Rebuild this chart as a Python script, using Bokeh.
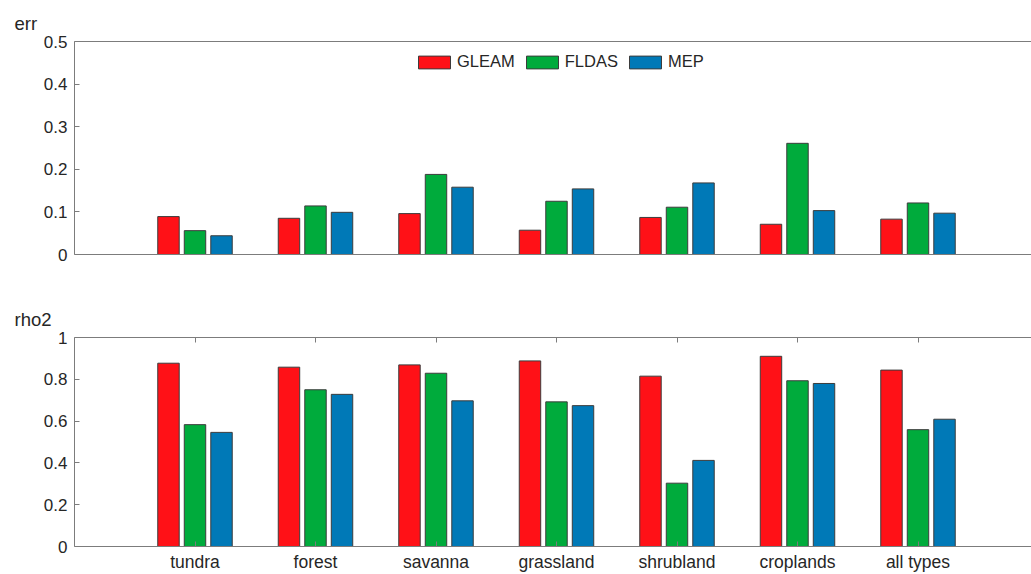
from bokeh.plotting import figure
from bokeh.models import (ColumnDataSource, FixedTicker, CustomJSTickFormatter, Range1d,
                          LinearAxis, Legend, LegendItem, Title)
from bokeh.layouts import column
from bokeh.transform import dodge
from bokeh.embed import file_html
from bokeh.resources import INLINE

categories = ["tundra", "forest", "savanna", "grassland", "shrubland", "croplands", "all types"]
series = ["GLEAM", "FLDAS", "MEP"]

err_gleam = [0.089, 0.085, 0.096, 0.057, 0.087, 0.071, 0.083]
err_fldas = [0.056, 0.114, 0.188, 0.125, 0.111, 0.261, 0.121]
err_mep = [0.044, 0.099, 0.158, 0.154, 0.168, 0.103, 0.097]

rho2_gleam = [0.877, 0.858, 0.869, 0.888, 0.815, 0.910, 0.844]
rho2_fldas = [0.583, 0.750, 0.829, 0.692, 0.303, 0.793, 0.559]
rho2_mep = [0.546, 0.728, 0.697, 0.674, 0.412, 0.780, 0.609]

err_ticks = [0, 0.1, 0.2, 0.3, 0.4, 0.5]
rho2_ticks = [0, 0.2, 0.4, 0.6, 0.8, 1]

colors = ["#ff1117", "#00ab3c", "#0079b7"]

FONT = "Liberation Sans"
AXIS_COLOR = "#7c7c7c"
TEXT_COLOR = "#262626"
positions = list(range(1, len(categories) + 1))


def make_panel(name, values, ymax, yticks, height, border_top, border_bottom,
               show_labels, show_legend):
    p = figure(width=1031, height=height, output_backend="svg", toolbar_location=None,
               x_range=Range1d(0, 957 / 120.5), y_range=Range1d(0, ymax),
               min_border_left=74, min_border_right=0,
               min_border_top=border_top, min_border_bottom=border_bottom,
               x_axis_type=None, y_axis_type=None)
    p.outline_line_color = None
    p.background_fill_color = "white"

    src = ColumnDataSource(dict(x=positions, a=values[0], b=values[1], c=values[2]))
    renderers = []
    for col, off, color in zip(["a", "b", "c"], [-0.22, 0.0, 0.22], colors):
        r = p.vbar(x=dodge("x", off), top=col, width=0.178, bottom=0, source=src,
                   fill_color=color, line_color="#3c3c3c", line_width=1)
        renderers.append(r)

    # left value axis
    yax = LinearAxis(ticker=FixedTicker(ticks=yticks),
                     formatter=CustomJSTickFormatter(code="return String(Math.round(tick*10)/10);"))
    yax.major_tick_in = 5
    yax.major_tick_out = 0
    yax.minor_tick_line_color = None
    yax.axis_line_color = AXIS_COLOR
    yax.major_tick_line_color = AXIS_COLOR
    yax.major_label_text_font = FONT
    yax.major_label_text_font_size = "17px"
    yax.major_label_text_color = TEXT_COLOR
    yax.major_label_standoff = 7
    p.add_layout(yax, "left")

    # category axis below (labels only on the lower panel)
    if show_labels:
        xax = LinearAxis(ticker=FixedTicker(ticks=positions),
                         formatter=CustomJSTickFormatter(args=dict(names=categories),
                                                         code="return names[Math.round(tick)-1] || '';"))
        xax.major_tick_line_color = AXIS_COLOR
        xax.major_tick_in = 5
        xax.major_tick_out = 0
        xax.major_label_text_font = FONT
        xax.major_label_text_color = TEXT_COLOR
        xax.major_label_text_font_size = "17.5px"
        xax.major_label_standoff = 5
    else:
        xax = LinearAxis(ticker=FixedTicker(ticks=[]))
        xax.major_tick_line_color = None
    xax.minor_tick_line_color = None
    xax.axis_line_color = AXIS_COLOR
    p.add_layout(xax, "below")

    # top edge of the box, with inward ticks on the lower panel
    tax = LinearAxis(ticker=FixedTicker(ticks=[], minor_ticks=positions if show_labels else []))
    tax.axis_line_color = AXIS_COLOR
    tax.major_tick_line_color = None
    tax.minor_tick_in = 5
    tax.minor_tick_out = 0
    tax.minor_tick_line_color = AXIS_COLOR if show_labels else None
    p.add_layout(tax, "above")

    p.ygrid.ticker = FixedTicker(ticks=yticks)
    p.ygrid.grid_line_color = "#e8e8e8"
    p.xgrid.grid_line_color = None

    p.title = Title(text=name, align="left", offset=-60, text_font=FONT,
                    text_font_size="18.5px", text_font_style="normal",
                    text_color=TEXT_COLOR, standoff=16)

    if show_legend:
        legend = Legend(items=[LegendItem(label=s, renderers=[r])
                               for s, r in zip(series, renderers)],
                        orientation="horizontal", location=(340, 183),
                        border_line_color=None, background_fill_alpha=0,
                        glyph_width=40, glyph_height=16, label_standoff=3,
                        spacing=7, padding=0, margin=0,
                        label_text_font=FONT, label_text_font_size="16.5px",
                        label_text_color=TEXT_COLOR)
        p.add_layout(legend)
    return p


p1 = make_panel("err", [err_gleam, err_fldas, err_mep], 0.5, err_ticks,
                290, 41, 36, False, True)
p2 = make_panel("rho2", [rho2_gleam, rho2_fldas, rho2_mep], 1, rho2_ticks,
                284, 47, 26, True, False)

layout = column(p1, p2, spacing=0)
open("out.html", "w").write(file_html(layout, INLINE))
